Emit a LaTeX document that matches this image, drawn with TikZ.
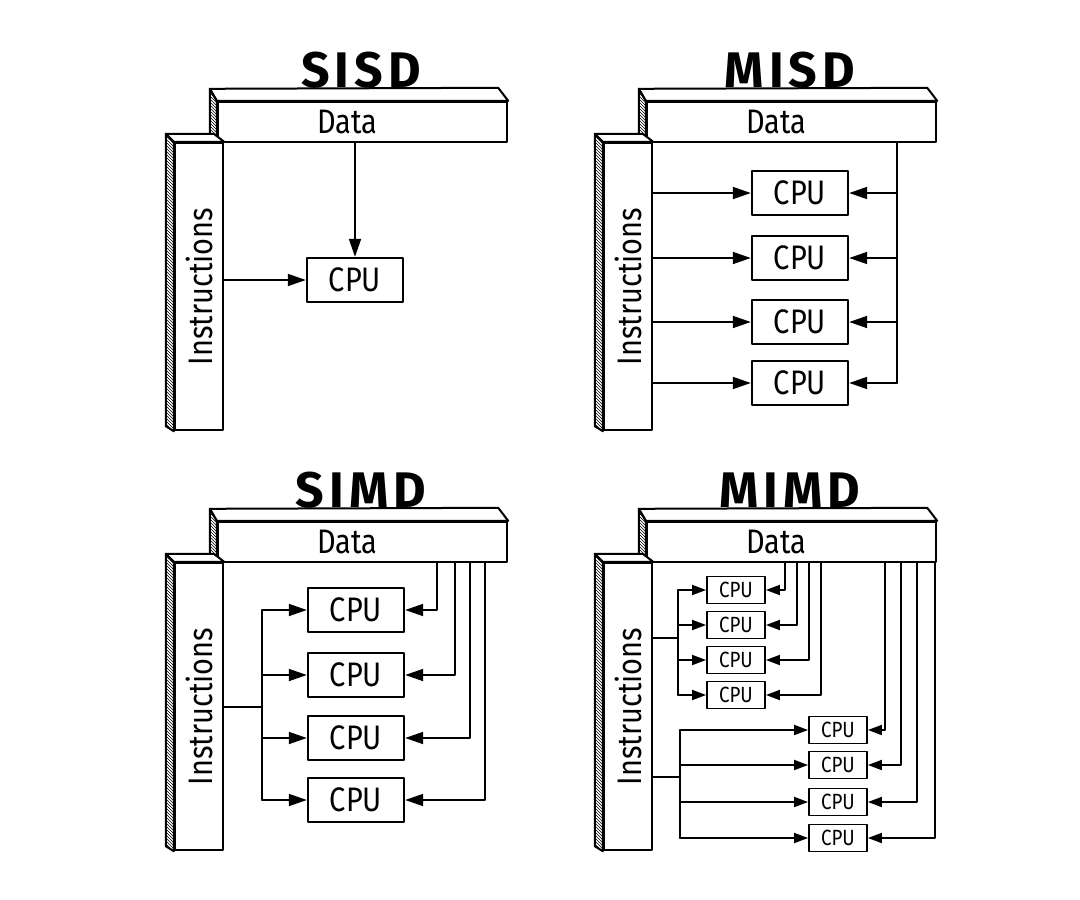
\documentclass[tikz,border=0pt]{standalone}
\usepackage{fontspec}
\newfontfamily\sketchfont[FakeStretch=0.85]{Fira Sans}
\newfontfamily\headfont[LetterSpace=10]{Fira Sans}
\usetikzlibrary{arrows.meta,patterns}

\begin{document}
\begin{tikzpicture}[x=1pt,y=1pt,line cap=round,line join=round,
  bar/.style={draw,line width=2.4pt,fill=white,inner sep=0pt,
    font=\sketchfont\fontsize{34}{36}\selectfont},
  face/.style={draw,line width=2pt,fill=white},
  side/.style={draw,line width=2pt,pattern=north west lines},
  title/.style={anchor=base,inner sep=0pt,
    font=\headfont\bfseries\fontsize{50}{52}\selectfont},
  cpu/.style={draw,line width=2.4pt,fill=white,inner sep=0pt,
    minimum width=96,minimum height=44,
    font=\sketchfont\fontsize{34}{36}\selectfont},
  minicpu/.style={cpu,line width=1.8pt,minimum width=58,minimum height=27,
    font=\sketchfont\fontsize{22}{24}\selectfont},
  wire/.style={line width=1.8pt},
  flow/.style={wire,-{Triangle[length=18pt,width=12pt]}},
  miniflow/.style={wire,-{Triangle[length=14pt,width=10pt]}}]
  \useasboundingbox (0,0) rectangle (1080,-900);
  % the two bars of every panel
  \foreach \tag/\title/\dx/\dy in {sisd/SISD/0/0, misd/MISD/429/0,
    simd/SIMD/0/-420, mimd/MIMD/429/-420}{
    \begin{scope}[shift={(\dx,\dy)}]
      \node[title] (\tag-title) at (361,-87) {\title};
      \node[bar,minimum width=289,minimum height=40] (\tag-data)
        at (362.5,-122) {\hspace*{-30pt}Data};
      \draw[face] (\tag-data.north west) -- ++(-7,12)
        -- ([shift={(-10,13)}]\tag-data.north east) -- (\tag-data.north east) -- cycle;
      \draw[side] (\tag-data.north west) -- ++(-7,12) -- ++(0,-52)
        -- (\tag-data.south west) -- cycle;
      \node[bar,rotate=90,minimum width=287,minimum height=48] (\tag-instr)
        at (199,-286.5) {Instructions};
      \draw[face] (\tag-instr.north east) -- ++(-8,8) -- ++(48,0)
        -- (\tag-instr.south east) -- cycle;
      \draw[side] (\tag-instr.north east) -- ++(-8,8)
        -- ([shift={(-8,5)}]\tag-instr.north west) -- (\tag-instr.north west) -- cycle;
    \end{scope}
  }
  % SISD
  \node[cpu] (sisd-cpu) at (355,-280) {CPU};
  \draw[flow] (sisd-cpu.north |- sisd-data.south) -- (sisd-cpu.north);
  \draw[flow] (sisd-instr.south |- sisd-cpu.west) -- (sisd-cpu.west);
  % MISD
  \foreach \i/\y in {1/193,2/258,3/322,4/383}
    \node[cpu] (misd-cpu\i) at (800,-\y) {CPU};
  \coordinate (misd-dbus) at (897,-142);
  \draw[wire] (misd-dbus |- misd-data.south) -- (misd-dbus |- misd-cpu4.east);
  \foreach \i in {1,...,4}{
    \draw[flow] (misd-instr.south |- misd-cpu\i.west) -- (misd-cpu\i.west);
    \draw[flow] (misd-dbus |- misd-cpu\i.east) -- (misd-cpu\i.east);
  }
  % SIMD
  \foreach \i/\y in {1/610,2/675,3/738,4/800}
    \node[cpu] (simd-cpu\i) at (356,-\y) {CPU};
  \coordinate (simd-ibus) at (262,-707);
  \draw[wire] (simd-instr.south |- simd-ibus) -- (simd-ibus);
  \draw[wire] (simd-ibus |- simd-cpu1.west) -- (simd-ibus |- simd-cpu4.west);
  \foreach \i/\x in {1/437,2/455,3/470,4/485}{
    \draw[flow] (simd-ibus |- simd-cpu\i.west) -- (simd-cpu\i.west);
    \draw[flow] (\x,0 |- simd-data.south) |- (simd-cpu\i.east);
  }
  % MIMD
  \foreach \i/\y in {1/590,2/625,3/660,4/695}
    \node[minicpu] (mimd-cpua\i) at (736,-\y) {CPU};
  \foreach \i/\y in {1/730,2/765,3/802,4/838}
    \node[minicpu] (mimd-cpub\i) at (838,-\y) {CPU};
  \coordinate (mimd-busa) at (678,-638);
  \coordinate (mimd-busb) at (680,-777);
  \draw[wire] (mimd-instr.south |- mimd-busa) -- (mimd-busa);
  \draw[wire] (mimd-busa |- mimd-cpua1.west) -- (mimd-busa |- mimd-cpua4.west);
  \draw[wire] (mimd-instr.south |- mimd-busb) -- (mimd-busb);
  \draw[wire] (mimd-busb |- mimd-cpub1.west) -- (mimd-busb |- mimd-cpub4.west);
  \foreach \i/\xa/\xb in {1/785/885,2/797/901,3/809/917,4/821/935}{
    \draw[miniflow] (mimd-busa |- mimd-cpua\i.west) -- (mimd-cpua\i.west);
    \draw[miniflow] (\xa,0 |- mimd-data.south) |- (mimd-cpua\i.east);
    \draw[miniflow] (mimd-busb |- mimd-cpub\i.west) -- (mimd-cpub\i.west);
    \draw[miniflow] (\xb,0 |- mimd-data.south) |- (mimd-cpub\i.east);
  }
\end{tikzpicture}
\end{document}
